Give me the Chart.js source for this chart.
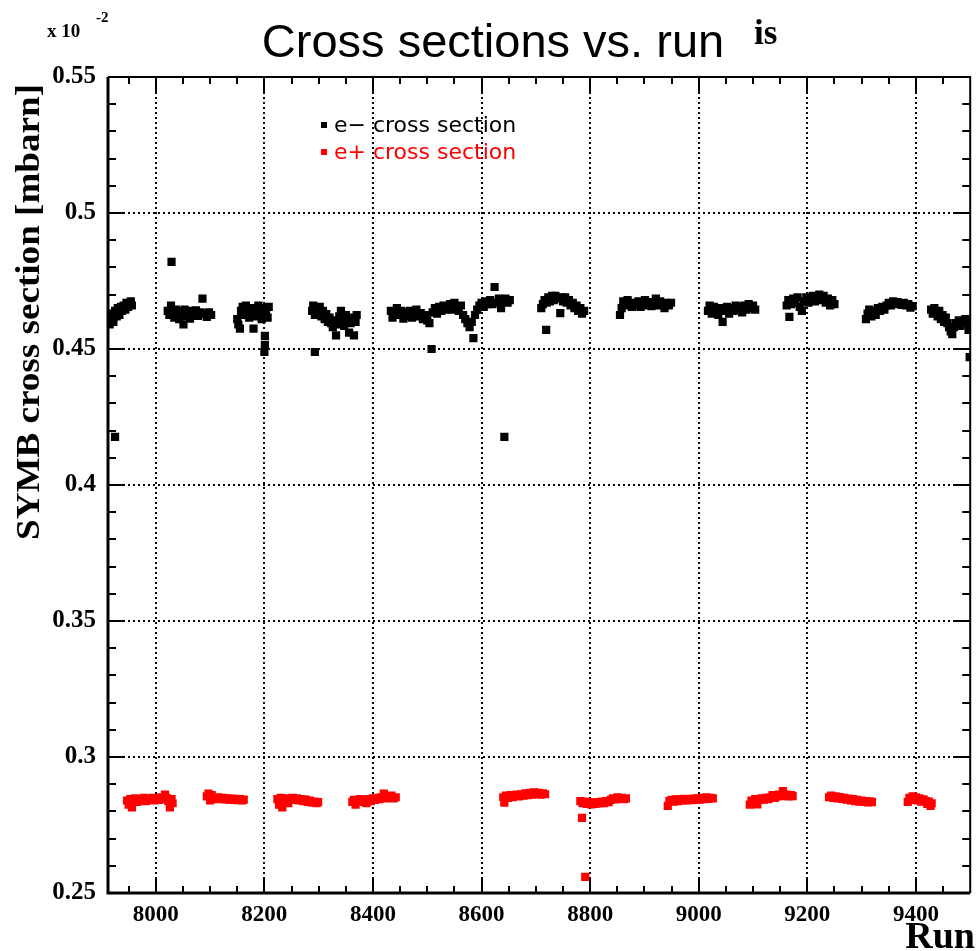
<!DOCTYPE html>
<html>
<head>
<meta charset="utf-8">
<script src="https://cdn.jsdelivr.net/npm/chart.js@4/dist/chart.umd.min.js"></script>
<style>
  html, body { margin: 0; padding: 0; background: #ffffff; }
  #wrap { width: 976px; height: 951px; position: relative; }
</style>
</head>
<body>
<div id="wrap"><canvas id="c" width="976" height="951"></canvas></div>
<script>
// ---------------- data ----------------
const chartTitle = "Cross sections vs. run";
const yAxisTitle = "SYMB cross section [mbarn]";
const xAxisTitle = "Run";
const seriesNames = ["e\u2212 cross section", "e+ cross section"];
const xTickValues = [8000, 8200, 8400, 8600, 8800, 9000, 9200, 9400];
const yTickValues = [0.25, 0.3, 0.35, 0.4, 0.45, 0.5, 0.55];
const yTickLabels = ["0.25", "0.3", "0.35", "0.4", "0.45", "0.5", "0.55"];

// e- cross section: [run, value]
const eMinusPoints = [
  [7915,0.4590],[7918,0.4610],[7920,0.4630],[7922,0.4600],[7925,0.4640],[7928,0.4620],[7930,0.4650],
  [7933,0.4625],[7936,0.4655],[7938,0.4640],[7941,0.4660],[7944,0.4645],[7946,0.4670],[7949,0.4655],
  [7952,0.4665],[7954,0.4675],[7956,0.4660],[7925,0.4177],
  [8029,0.4820],
  [8022,0.4640],[8025,0.4625],[8028,0.4660],[8031,0.4635],[8034,0.4615],[8037,0.4645],[8040,0.4630],
  [8043,0.4610],[8046,0.4638],[8050,0.4625],[8051,0.4590],[8053,0.4645],[8056,0.4620],[8060,0.4632],
  [8063,0.4612],[8067,0.4640],[8070,0.4628],[8074,0.4642],[8078,0.4622],[8082,0.4635],[8086,0.4685],
  [8090,0.4630],[8094,0.4618],[8098,0.4635],[8102,0.4625],
  [8150,0.4610],[8152,0.4590],[8155,0.4575],[8157,0.4640],[8160,0.4655],[8163,0.4625],[8166,0.4660],
  [8169,0.4640],[8172,0.4615],[8175,0.4650],[8178,0.4630],[8180,0.4575],[8183,0.4645],[8186,0.4620],
  [8189,0.4660],[8192,0.4635],[8195,0.4610],[8198,0.4650],[8201,0.4625],[8203,0.4640],[8206,0.4615],
  [8208,0.4655],[8201,0.4548],[8201,0.4515],[8200,0.4489],
  [8293,0.4489],
  [8288,0.4640],[8290,0.4660],[8293,0.4625],[8296,0.4650],[8299,0.4635],[8302,0.4655],[8305,0.4620],
  [8308,0.4640],[8311,0.4610],[8314,0.4628],[8317,0.4600],[8320,0.4615],[8323,0.4595],[8326,0.4580],
  [8329,0.4605],[8332,0.4550],[8335,0.4590],[8338,0.4620],[8341,0.4640],[8344,0.4605],[8347,0.4585],
  [8350,0.4625],[8353,0.4600],[8356,0.4560],[8359,0.4595],[8362,0.4615],[8365,0.4550],[8368,0.4600],
  [8370,0.4625],
  [8433,0.4640],[8436,0.4615],[8440,0.4630],[8444,0.4650],[8448,0.4625],[8452,0.4640],[8456,0.4612],
  [8460,0.4635],[8464,0.4620],[8468,0.4640],[8472,0.4615],[8476,0.4630],[8480,0.4645],[8484,0.4620],
  [8488,0.4632],[8492,0.4610],[8496,0.4625],[8500,0.4605],[8504,0.4595],[8508,0.4500],[8510,0.4635],
  [8514,0.4650],[8518,0.4630],[8522,0.4655],[8526,0.4640],[8530,0.4660],[8534,0.4645],[8538,0.4650],
  [8542,0.4665],[8546,0.4645],[8550,0.4670],[8554,0.4655],[8558,0.4640],[8562,0.4660],[8566,0.4625],
  [8570,0.4610],[8574,0.4595],[8578,0.4580],[8582,0.4600],[8585,0.4540],[8588,0.4625],[8592,0.4645],
  [8596,0.4660],[8600,0.4670],[8604,0.4655],[8608,0.4675],[8612,0.4665],[8616,0.4680],[8620,0.4665],
  [8624,0.4728],[8628,0.4670],[8632,0.4685],[8636,0.4650],[8640,0.4675],[8644,0.4685],[8648,0.4670],
  [8652,0.4680],
  [8642,0.4177],
  [8710,0.4650],[8713,0.4665],[8716,0.4680],[8720,0.4670],[8723,0.4690],[8726,0.4675],[8730,0.4695],
  [8733,0.4680],[8736,0.4695],[8740,0.4685],[8745,0.4632],[8747,0.4690],[8750,0.4675],[8754,0.4690],
  [8757,0.4670],[8761,0.4680],[8764,0.4660],[8768,0.4670],[8771,0.4650],[8775,0.4660],[8778,0.4640],
  [8782,0.4650],[8785,0.4630],[8789,0.4640],[8719,0.4570],
  [8855,0.4625],[8858,0.4650],[8861,0.4675],[8865,0.4660],[8869,0.4680],[8873,0.4665],[8877,0.4655],
  [8881,0.4670],[8885,0.4660],[8889,0.4675],[8893,0.4655],[8897,0.4668],[8901,0.4680],[8905,0.4660],
  [8909,0.4672],[8913,0.4658],[8917,0.4670],[8921,0.4685],[8925,0.4660],[8929,0.4675],[8933,0.4665],
  [8937,0.4650],[8941,0.4670],[8945,0.4660],[8949,0.4670],
  [9017,0.4640],[9020,0.4660],[9024,0.4630],[9028,0.4655],[9032,0.4645],[9036,0.4625],[9040,0.4650],
  [9044,0.4600],[9048,0.4640],[9052,0.4655],[9056,0.4630],[9060,0.4650],[9064,0.4640],[9068,0.4660],
  [9072,0.4645],[9076,0.4655],[9080,0.4635],[9084,0.4660],[9088,0.4645],[9092,0.4665],[9096,0.4650],
  [9100,0.4660],[9104,0.4645],
  [9162,0.4660],[9165,0.4680],[9167,0.4618],[9170,0.4665],[9174,0.4685],[9178,0.4670],[9182,0.4690],
  [9186,0.4655],[9190,0.4640],[9194,0.4675],[9198,0.4690],[9202,0.4670],[9206,0.4685],[9210,0.4695],
  [9214,0.4675],[9218,0.4690],[9222,0.4700],[9226,0.4680],[9230,0.4695],[9234,0.4670],[9238,0.4685],
  [9242,0.4660],[9246,0.4680],[9250,0.4665],
  [9308,0.4610],[9311,0.4630],[9314,0.4645],[9318,0.4620],[9322,0.4640],[9326,0.4625],[9330,0.4650],
  [9334,0.4640],[9338,0.4655],[9342,0.4645],[9346,0.4660],[9350,0.4670],[9354,0.4660],[9358,0.4675],
  [9362,0.4665],[9366,0.4672],[9370,0.4668],[9374,0.4662],[9378,0.4670],[9382,0.4660],[9386,0.4665],
  [9390,0.4652],[9394,0.4658],
  [9428,0.4645],[9431,0.4630],[9434,0.4650],[9437,0.4635],[9440,0.4620],[9443,0.4640],[9446,0.4610],
  [9449,0.4625],[9452,0.4600],[9455,0.4615],[9458,0.4595],[9461,0.4580],[9464,0.4565],[9467,0.4555],
  [9470,0.4580],[9473,0.4595],[9476,0.4590],[9479,0.4605],[9482,0.4585],[9485,0.4600],[9488,0.4595],
  [9491,0.4610],[9494,0.4600],[9497,0.4570],[9499,0.4470]
];

// e+ cross section: [run, value]
const ePlusPoints = [
  [7947,0.2840],[7950,0.2825],[7953,0.2845],[7956,0.2815],[7959,0.2840],[7962,0.2848],[7966,0.2835],
  [7970,0.2845],[7974,0.2840],[7978,0.2850],[7982,0.2838],[7986,0.2845],[7990,0.2842],[7994,0.2850],
  [7998,0.2840],[8002,0.2848],[8006,0.2842],[8010,0.2852],[8014,0.2845],[8017,0.2862],[8020,0.2850],
  [8023,0.2838],[8026,0.2815],[8029,0.2845],[8031,0.2830],
  [8094,0.2855],[8097,0.2865],[8100,0.2840],[8103,0.2860],[8107,0.2850],[8111,0.2845],[8115,0.2852],
  [8119,0.2846],[8123,0.2850],[8127,0.2844],[8131,0.2848],[8135,0.2843],[8139,0.2847],[8143,0.2842],
  [8147,0.2846],[8151,0.2841],[8155,0.2845],[8159,0.2840],[8162,0.2843],
  [8224,0.2845],[8227,0.2825],[8230,0.2850],[8233,0.2815],[8236,0.2840],[8240,0.2848],[8244,0.2830],
  [8248,0.2845],[8252,0.2850],[8256,0.2842],[8260,0.2848],[8264,0.2840],[8268,0.2845],[8272,0.2838],
  [8276,0.2843],[8280,0.2835],[8284,0.2840],[8288,0.2832],[8292,0.2836],[8296,0.2830],[8299,0.2834],
  [8362,0.2835],[8365,0.2842],[8368,0.2825],[8372,0.2838],[8376,0.2845],[8380,0.2835],[8384,0.2842],
  [8388,0.2830],[8392,0.2845],[8396,0.2838],[8400,0.2848],[8404,0.2842],[8408,0.2850],[8412,0.2845],
  [8416,0.2852],[8420,0.2865],[8423,0.2848],[8426,0.2855],[8430,0.2850],[8434,0.2858],[8438,0.2848],
  [8442,0.2852],
  [8640,0.2852],[8642,0.2832],[8645,0.2858],[8649,0.2850],[8653,0.2860],[8657,0.2852],[8661,0.2858],
  [8665,0.2862],[8669,0.2855],[8673,0.2863],[8677,0.2858],[8681,0.2866],[8685,0.2860],[8689,0.2868],
  [8693,0.2862],[8697,0.2870],[8701,0.2864],[8705,0.2868],[8709,0.2862],[8713,0.2866],[8717,0.2863],
  [8782,0.2838],[8785,0.2776],[8786,0.2830],[8790,0.2836],[8791,0.2559],[8794,0.2828],[8798,0.2834],
  [8802,0.2826],[8806,0.2832],[8810,0.2828],[8814,0.2834],[8818,0.2830],[8822,0.2836],[8826,0.2830],
  [8830,0.2838],[8834,0.2834],[8838,0.2842],[8842,0.2848],[8846,0.2844],[8850,0.2852],[8854,0.2846],
  [8858,0.2850],[8862,0.2845],[8866,0.2848],
  [8943,0.2820],[8946,0.2838],[8950,0.2842],[8954,0.2836],[8958,0.2844],[8962,0.2838],[8966,0.2845],
  [8970,0.2840],[8974,0.2846],[8978,0.2840],[8982,0.2845],[8986,0.2841],[8990,0.2847],[8994,0.2842],
  [8998,0.2848],[9002,0.2843],[9006,0.2850],[9010,0.2845],[9014,0.2852],[9018,0.2846],[9022,0.2850],
  [9026,0.2848],
  [9094,0.2825],[9097,0.2840],[9100,0.2835],[9104,0.2845],[9108,0.2826],[9112,0.2842],[9116,0.2848],
  [9120,0.2843],[9124,0.2850],[9128,0.2845],[9132,0.2852],[9136,0.2860],[9140,0.2850],[9144,0.2855],
  [9148,0.2862],[9152,0.2856],[9155,0.2875],[9158,0.2858],[9162,0.2862],[9166,0.2855],[9170,0.2860],
  [9173,0.2856],
  [9240,0.2852],[9244,0.2858],[9248,0.2850],[9252,0.2855],[9256,0.2848],[9260,0.2853],[9264,0.2846],
  [9268,0.2850],[9272,0.2843],[9276,0.2847],[9280,0.2840],[9284,0.2845],[9288,0.2838],[9292,0.2842],
  [9296,0.2836],[9300,0.2840],[9304,0.2835],[9308,0.2838],[9312,0.2833],[9316,0.2837],[9319,0.2834],
  [9385,0.2835],[9388,0.2850],[9391,0.2842],[9394,0.2855],[9397,0.2845],[9400,0.2852],[9403,0.2840],
  [9406,0.2848],[9410,0.2836],[9414,0.2844],[9418,0.2838],[9421,0.2828],[9424,0.2836],[9427,0.2820],
  [9429,0.2830]
];

const xRange = [7912, 9500];
const yRange = [0.25, 0.55];
const seriesColors = ["#000000", "#ff0000"];

// ---------------- drawing ----------------
const SERIF = '"Liberation Serif", "Times New Roman", serif';
const SANS = '"Liberation Sans", Arial, sans-serif';

const decorPlugin = {
  id: 'rootDecor',
  beforeDatasetsDraw(chart) {
    const ctx = chart.ctx, a = chart.chartArea;
    const xs = chart.scales.x, ys = chart.scales.y;
    ctx.save();
    ctx.strokeStyle = '#000';
    ctx.lineWidth = 2;
    ctx.setLineDash([2, 3]);
    xTickValues.forEach(v => {
      const px = Math.round(xs.getPixelForValue(v));
      ctx.beginPath(); ctx.moveTo(px, a.top); ctx.lineTo(px, a.bottom); ctx.stroke();
    });
    yTickValues.forEach(v => {
      if (v <= yRange[0] || v >= yRange[1]) return;
      const py = Math.round(ys.getPixelForValue(v));
      ctx.beginPath(); ctx.moveTo(a.left, py); ctx.lineTo(a.right, py); ctx.stroke();
    });
    ctx.restore();
  },
  afterDatasetsDraw(chart) {
    const ctx = chart.ctx, a = chart.chartArea;
    const xs = chart.scales.x, ys = chart.scales.y;
    ctx.save();
    ctx.setLineDash([]);
    ctx.strokeStyle = '#000';
    ctx.lineWidth = 2;
    for (let v = 7950; v < xRange[1]; v += 50) {
      const major = xTickValues.includes(v);
      const len = major ? 15 : 7;
      const px = Math.round(xs.getPixelForValue(v));
      ctx.beginPath(); ctx.moveTo(px, a.bottom); ctx.lineTo(px, a.bottom - len); ctx.stroke();
      ctx.beginPath(); ctx.moveTo(px, a.top); ctx.lineTo(px, a.top + len); ctx.stroke();
    }
    for (let i = 1; i < 30; i++) {
      const v = yRange[0] + i * 0.01;
      const major = (i % 5 === 0);
      const len = major ? 17 : 8;
      const py = Math.round(ys.getPixelForValue(v));
      ctx.beginPath(); ctx.moveTo(a.left, py); ctx.lineTo(a.left + len, py); ctx.stroke();
      ctx.beginPath(); ctx.moveTo(a.right, py); ctx.lineTo(a.right - len, py); ctx.stroke();
    }
    ctx.lineWidth = 2;
    ctx.beginPath();
    ctx.moveTo(a.left, a.top); ctx.lineTo(a.right, a.top); ctx.lineTo(a.right, a.bottom);
    ctx.stroke();
    ctx.lineWidth = 3;
    ctx.beginPath();
    ctx.moveTo(a.left, a.top); ctx.lineTo(a.left, a.bottom); ctx.lineTo(a.right, a.bottom);
    ctx.stroke();
    ctx.restore();
  },
  afterDraw(chart) {
    const ctx = chart.ctx;
    ctx.save();
    ctx.fillStyle = '#000';
    ctx.font = '47px ' + SANS;
    ctx.textAlign = 'center';
    ctx.textBaseline = 'alphabetic';
    ctx.fillText(chartTitle, 493, 57);
    ctx.font = 'bold 35px ' + SERIF;
    ctx.textAlign = 'left';
    ctx.fillText('is', 754, 44);
    ctx.font = 'bold 19px ' + SERIF;
    ctx.fillText('x 10', 47, 37);
    ctx.font = 'bold 15px ' + SERIF;
    ctx.fillText('-2', 96, 22);
    ctx.save();
    ctx.translate(39, 84);
    ctx.rotate(-Math.PI / 2);
    ctx.font = 'bold 34px ' + SERIF;
    const w = ctx.measureText(yAxisTitle).width;
    ctx.scale(456 / w, 1);
    ctx.textAlign = 'right';
    ctx.fillText(yAxisTitle, 0, 0);
    ctx.restore();
    ctx.font = 'bold 38px ' + SERIF;
    ctx.textAlign = 'right';
    ctx.fillText(xAxisTitle, 975, 948);
    ctx.textAlign = 'left';
    ctx.font = '22px "DejaVu Sans", sans-serif';
    const ly = [125, 152];
    for (let i = 0; i < 2; i++) {
      ctx.fillStyle = seriesColors[i];
      ctx.fillRect(321, ly[i] - 3, 6, 6);
      ctx.fillText(seriesNames[i], 334, ly[i] + 7);
    }
    ctx.restore();
  }
};

const toXY = arr => arr.map(p => ({ x: p[0], y: p[1] }));

new Chart(document.getElementById('c'), {
  type: 'scatter',
  data: {
    datasets: [
      { label: seriesNames[0], data: toXY(eMinusPoints), backgroundColor: seriesColors[0],
        borderColor: seriesColors[0], borderWidth: 0, pointStyle: 'rect', pointRadius: 5.8, showLine: false },
      { label: seriesNames[1], data: toXY(ePlusPoints), backgroundColor: seriesColors[1],
        borderColor: seriesColors[1], borderWidth: 0, pointStyle: 'rect', pointRadius: 5.8, showLine: false }
    ]
  },
  options: {
    responsive: false,
    animation: false,
    devicePixelRatio: 1,
    layout: { padding: { top: 77, right: 2, left: 0, bottom: 0 } },
    plugins: { legend: { display: false }, tooltip: { enabled: false }, title: { display: false } },
    scales: {
      x: {
        type: 'linear', min: xRange[0], max: xRange[1],
        afterBuildTicks: s => { s.ticks = xTickValues.map(v => ({ value: v })); },
        afterFit: s => { s.height = 58; },
        grid: { display: false, drawTicks: false },
        border: { display: false },
        ticks: { color: '#000', padding: 8, maxRotation: 0, autoSkip: false,
          font: { family: 'Liberation Serif', weight: 'bold', size: 23 },
          callback: (v, i) => String(xTickValues[i]) }
      },
      y: {
        type: 'linear', min: yRange[0], max: yRange[1],
        afterBuildTicks: s => { s.ticks = yTickValues.map(v => ({ value: v })); },
        afterFit: s => { s.width = 108; },
        grid: { display: false, drawTicks: false },
        border: { display: false },
        ticks: { color: '#000', padding: 12, autoSkip: false,
          font: { family: 'Liberation Serif', weight: 'bold', size: 25 },
          callback: (v, i) => yTickLabels[i] }
      }
    }
  },
  plugins: [decorPlugin]
});
</script>
</body>
</html>
